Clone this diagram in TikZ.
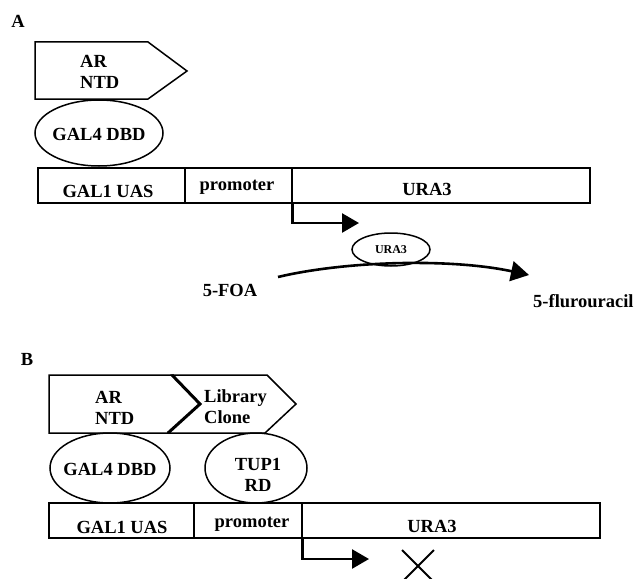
\documentclass[tikz,border=0pt]{standalone}
\usepackage{fontspec}
\setmainfont{Liberation Serif}
\usetikzlibrary{shapes.geometric,arrows.meta}
\tikzset{
  lbl/.style={font=\bfseries\fontsize{18.5}{21}\selectfont, inner sep=0pt},
  small/.style={font=\bfseries\fontsize{12}{14}\selectfont, inner sep=0pt},
  part/.style={draw, line width=1.5pt, fill=white},
  seg/.style={draw, line width=1.5pt, rectangle, inner sep=0pt},
  blob/.style={draw, line width=1.5pt, ellipse, inner sep=0pt},
  txn/.style={line width=2.6pt, -{Triangle[length=17pt,width=19pt]}},
  cross/.style={line width=2pt}
}
\begin{document}
\begin{tikzpicture}[x=1pt,y=-1pt]
\useasboundingbox (0,0) rectangle (639,578);

% ---------------- Panel A ----------------
\node[lbl] (labA) at (18,21) {A};

% AR NTD activation domain
\draw[part] (35,42) -- (148,42) -- (187,71) -- (148,99) -- (35,99) -- cycle;
\node[lbl, align=left, anchor=west] (arA) at (80,72) {AR\\NTD};

% GAL4 DNA-binding domain
\node[blob, minimum width=128, minimum height=66] (dbdA) at (99,133) {};
\node[lbl] (dbdAt) at (99,134) {GAL4 DBD};

% reporter construct
\node[seg, minimum width=147, minimum height=35] (uasA) at (111.5,185.5) {};
\node[seg, minimum width=107, minimum height=35] (proA) at (238.5,185.5) {};
\node[seg, minimum width=298, minimum height=35] (uraA) at (441,185.5) {};
\node[lbl, anchor=base] (uasAt) at (108,197) {GAL1 UAS};
\node[lbl, anchor=base] (proAt) at (237,190) {promoter};
\node[lbl, anchor=base] (uraAt) at (427,195) {URA3};

% transcription start
\coordinate (tsA) at (proA.south east);
\coordinate (teA) at (359,223);
\draw[txn] (tsA) |- (teA);

% URA3 enzyme converting 5-FOA
\node[blob, minimum width=78, minimum height=33] (enz) at (391,249.5) {};
\node[small] (enzt) at (391,250) {URA3};
\node[lbl] (foa) at (230,290) {5-FOA};
\node[lbl, anchor=west] (fu) at (533,301) {5-flurouracil};
\coordinate (cs) at (278,277);
\coordinate (ce) at (529,275);
\draw[line width=2.6pt, -{Triangle[length=18pt,width=20pt]}]
  (cs) .. controls (345,261) and (450,258) .. (ce);

% ---------------- Panel B ----------------
\node[lbl] (labB) at (27,359) {B};

% AR NTD fused to library clone
\draw[part] (49,375) -- (172,375) -- (200,404) -- (168,433) -- (49,433) -- cycle;
\draw[part] (172,375) -- (267,375) -- (296,404) -- (265,433) -- (168,433) -- (200,404) -- cycle;
\draw[line width=3pt] (172,375) -- (200,404) -- (168,433);
\node[lbl, align=left, anchor=west] (arB) at (95,408) {AR\\NTD};
\node[lbl, align=left, anchor=west] (lib) at (204,407) {Library\\Clone};

% GAL4 DBD and TUP1 repression domain
\node[blob, minimum width=120, minimum height=70] (dbdB) at (110,468) {};
\node[lbl] (dbdBt) at (110,469) {GAL4 DBD};
\node[blob, minimum width=102, minimum height=70] (tup) at (256,468) {};
\node[lbl, align=center] (tupt) at (258,475) {TUP1\\RD};

% reporter construct
\node[seg, minimum width=145, minimum height=35] (uasB) at (121.5,520.5) {};
\node[seg, minimum width=108, minimum height=35] (proB) at (248,520.5) {};
\node[seg, minimum width=298, minimum height=35] (uraB) at (451,520.5) {};
\node[lbl, anchor=base] (uasBt) at (122,533) {GAL1 UAS};
\node[lbl, anchor=base] (proBt) at (252,527) {promoter};
\node[lbl, anchor=base] (uraBt) at (432,532) {URA3};

% blocked transcription
\coordinate (tsB) at (proB.south east);
\coordinate (teB) at (369,559);
\draw[txn] (tsB) |- (teB);
\coordinate (x1) at (402,550);
\coordinate (x2) at (434,582);
\coordinate (x3) at (434,550);
\coordinate (x4) at (402,582);
\draw[cross] (x1) -- (x2);
\draw[cross] (x3) -- (x4);
\end{tikzpicture}
\end{document}
